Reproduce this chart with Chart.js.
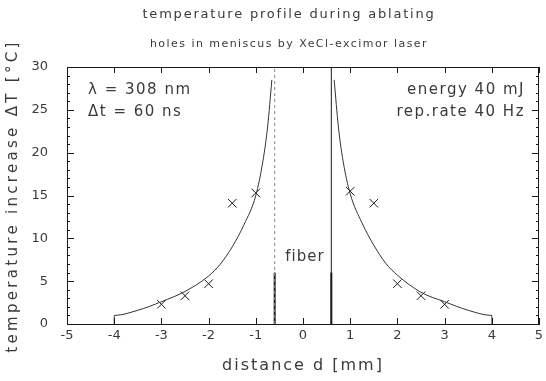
<!DOCTYPE html>
<html>
<head>
<meta charset="utf-8">
<script src="https://cdn.jsdelivr.net/npm/chart.js@4.4.1/dist/chart.umd.min.js"></script>
<style>
  html, body { margin: 0; padding: 0; background: #fff; }
</style>
</head>
<body>
<canvas id="chart" width="546" height="381"></canvas>
<script>
// model curve (left and right of the fiber)
const leftCurveX = [-4, -4, -3.5, -3, -2.5, -2, -1.75, -1.5, -1.25, -1, -0.85, -0.75, -0.66];
const leftCurveY = [0, 1.0, 1.6, 2.6, 3.8, 5.6, 7.0, 9.0, 11.6, 15.0, 19.0, 23.0, 28.5];
const rightCurveX = [0.66, 0.75, 0.85, 1, 1.25, 1.5, 1.75, 2, 2.5, 3, 3.5, 4, 4];
const rightCurveY = [28.5, 23.0, 19.0, 15.2, 11.8, 9.2, 7.1, 5.7, 3.7, 2.6, 1.6, 1.0, 0];

// measured points (crosses)
const measX = [-3, -2.5, -2, -1.5, -1, 1, 1.5, 2, 2.5, 3];
const measY = [2.3, 3.3, 4.7, 14.1, 15.3, 15.5, 14.1, 4.7, 3.3, 2.3];

// fiber edges
const fiberX = [-0.6, 0.6];
const fiberY = [0, 30];
const fiberSolidTop = 6;

const xTicks = [-5, -4, -3, -2, -1, 0, 1, 2, 3, 4, 5];
const yTicks = [0, 5, 10, 15, 20, 25, 30];

const INK = '#1a1a1a';
const TXT = '#3a3a3a';

const toPts = (xs, ys) => xs.map((x, i) => ({ x, y: ys[i] }));

// inward tick marks and the top/right frame
const frameTicks = {
  id: 'frameTicks',
  afterDatasetsDraw(chart) {
    const { ctx, chartArea: a, scales: { x, y } } = chart;
    ctx.save();
    ctx.strokeStyle = INK;
    ctx.lineWidth = 1;
    ctx.beginPath();
    ctx.moveTo(a.left, a.top + 0.5);
    ctx.lineTo(a.right, a.top + 0.5);
    ctx.moveTo(a.right - 0.5, a.top);
    ctx.lineTo(a.right - 0.5, a.bottom);
    xTicks.forEach((v) => {
      const px = Math.round(x.getPixelForValue(v)) + 0.5;
      ctx.moveTo(px, a.bottom);
      ctx.lineTo(px, a.bottom - 6);
      ctx.moveTo(px, a.top);
      ctx.lineTo(px, a.top + 6);
    });
    for (let v = yTicks[0]; v <= yTicks[yTicks.length - 1]; v++) {
      const py = Math.round(y.getPixelForValue(v)) + 0.5;
      const len = v % 5 === 0 ? 7 : 3;
      ctx.moveTo(a.left, py);
      ctx.lineTo(a.left + len, py);
      ctx.moveTo(a.right, py);
      ctx.lineTo(a.right - len, py);
    }
    ctx.stroke();
    ctx.restore();
  },
};

// titles, axis titles and notes
const labels = {
  id: 'labels',
  afterDraw(chart) {
    const { ctx, chartArea: a } = chart;
    ctx.save();
    ctx.fillStyle = TXT;
    ctx.textBaseline = 'middle';

    const put = (text, x, y, size, spacing, align) => {
      ctx.font = `${size}px "DejaVu Sans"`;
      ctx.letterSpacing = spacing + 'px';
      ctx.textAlign = align || 'center';
      ctx.fillText(text, x, y);
    };

    put('temperature profile during ablating', 289, 15, 13, 1.8);
    put('holes in meniscus by XeCl-excimor laser', 289, 44, 11, 1.45);

    put('λ = 308 nm', a.left + 21, 90, 15, 1.5, 'left');
    put('Δt = 60 ns', a.left + 21, 112, 15, 1.5, 'left');
    put('energy 40 mJ', 525, 90, 15, 1.5, 'right');
    put('rep.rate 40 Hz', 525, 112, 15, 1.5, 'right');
    put('fiber', 305, 257, 15, 1);

    put('distance d [mm]', 303, 366, 16, 2);

    ctx.translate(13, 196);
    ctx.rotate(-Math.PI / 2);
    put('temperature increase ΔT [°C]', 0, 0, 15, 3.3);
    ctx.restore();
  },
};

const fiberSets = [];
fiberX.forEach((fx, i) => {
  fiberSets.push({
    data: toPts([fx, fx], fiberY),
    showLine: true,
    borderColor: i === 0 ? '#888' : INK,
    borderWidth: 1,
    borderDash: i === 0 ? [3, 3] : [],
    pointRadius: 0,
  });
  fiberSets.push({
    data: toPts([fx, fx], [fiberY[0], fiberSolidTop]),
    showLine: true,
    borderColor: INK,
    borderWidth: 2,
    pointRadius: 0,
  });
});

new Chart(document.getElementById('chart'), {
  type: 'scatter',
  data: {
    datasets: [
      {
        data: toPts(leftCurveX, leftCurveY),
        showLine: true,
        borderColor: '#333',
        borderWidth: 1,
        cubicInterpolationMode: 'monotone',
        pointRadius: 0,
      },
      {
        data: toPts(rightCurveX, rightCurveY),
        showLine: true,
        borderColor: '#333',
        borderWidth: 1,
        cubicInterpolationMode: 'monotone',
        pointRadius: 0,
      },
      ...fiberSets,
      {
        data: toPts(measX, measY),
        pointStyle: 'crossRot',
        pointRadius: 6,
        borderColor: INK,
        borderWidth: 1,
        backgroundColor: INK,
      },
    ],
  },
  options: {
    responsive: false,
    animation: false,
    layout: { padding: { top: 67, right: 5, left: 0, bottom: 0 } },
    plugins: {
      legend: { display: false },
      tooltip: { enabled: false },
    },
    scales: {
      x: {
        type: 'linear',
        min: -5,
        max: 5,
        afterFit: (s) => {
          s.height = 57;
          s.paddingLeft = 0;
          s.paddingRight = 0;
        },
        afterBuildTicks: (s) => { s.ticks = xTicks.map((v) => ({ value: v })); },
        grid: { display: false, drawTicks: false },
        border: { display: true, color: INK, width: 1 },
        ticks: {
          padding: 4,
          color: TXT,
          font: { family: 'DejaVu Sans', size: 13 },
        },
      },
      y: {
        type: 'linear',
        min: 0,
        max: 30,
        afterFit: (s) => {
          s.width = 67;
          s.paddingTop = 0;
          s.paddingBottom = 0;
        },
        afterBuildTicks: (s) => { s.ticks = yTicks.map((v) => ({ value: v })); },
        grid: { display: false, drawTicks: false },
        border: { display: true, color: INK, width: 1 },
        ticks: {
          padding: 19,
          color: TXT,
          font: { family: 'DejaVu Sans', size: 13 },
        },
      },
    },
  },
  plugins: [frameTicks, labels],
});
</script>
</body>
</html>
